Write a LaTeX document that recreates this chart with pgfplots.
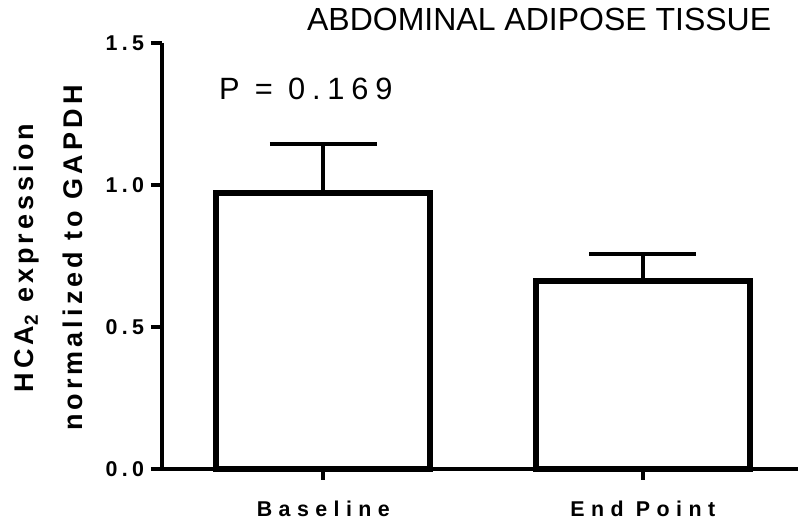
\documentclass[border=0pt]{standalone}
\usepackage{pgfplots}
\pgfplotsset{compat=1.18}
\usepackage{fontspec}
\setmainfont{Liberation Sans}
\newfontfamily\tickfont{Liberation Sans}[LetterSpace=20]
\newfontfamily\xlabfont{Liberation Sans}[LetterSpace=30]
\newfontfamily\ylabfont{Liberation Sans}[LetterSpace=15]
\newfontfamily\pfont{Liberation Sans}[LetterSpace=22]
\begin{document}
\begin{tikzpicture}
\useasboundingbox (0,0) rectangle (399pt,261pt);
\begin{axis}[
  at={(81pt,26.5pt)}, anchor=south west,
  scale only axis, width=318pt, height=213pt,
  xmin=-0.505, xmax=1.486, ymin=0, ymax=1.5,
  axis x line*=bottom, axis y line*=left,
  axis line style={line width=2pt, black},
  xtick={0,1}, xticklabels={Baseline, End Point},
  ytick={0,0.5,1,1.5}, yticklabels={0.0,0.5,1.0,1.5},
  tick align=outside, major tick length=5.5pt,
  tick style={line width=2pt, black},
  xticklabel style={font=\xlabfont\bfseries\fontsize{10.7}{12}\selectfont, yshift=-7pt},
  yticklabel style={font=\tickfont\bfseries\fontsize{10.7}{12}\selectfont},
  clip=false,
]
\addplot[ybar, bar width=107pt, draw=black, fill=white, line width=3pt, line join=miter,
  error bars/.cd, y dir=plus, y explicit,
  error bar style={line width=2pt, black},
  error mark options={rotate=90, mark size=26.75pt, line width=2pt, black}]
coordinates {(0,0.972) +- (0,0.173) (1,0.661) +- (0,0.096)};
\node[anchor=center, font=\fontsize{16}{18}\selectfont] at (rel axis cs:0.593,1.056) {ABDOMINAL ADIPOSE TISSUE};
\node[anchor=center, font=\pfont\fontsize{15.4}{18}\selectfont] at (axis cs:-0.055,1.338) {P = 0.169};
\node[rotate=90, align=center, inner sep=0pt, font=\ylabfont\bfseries\fontsize{13.5}{24.5}\selectfont]
  at ([xshift=-56.75pt]rel axis cs:0,0.495) {HCA\textsubscript{2} expression\\normalized to GAPDH};
\end{axis}
\end{tikzpicture}
\end{document}
